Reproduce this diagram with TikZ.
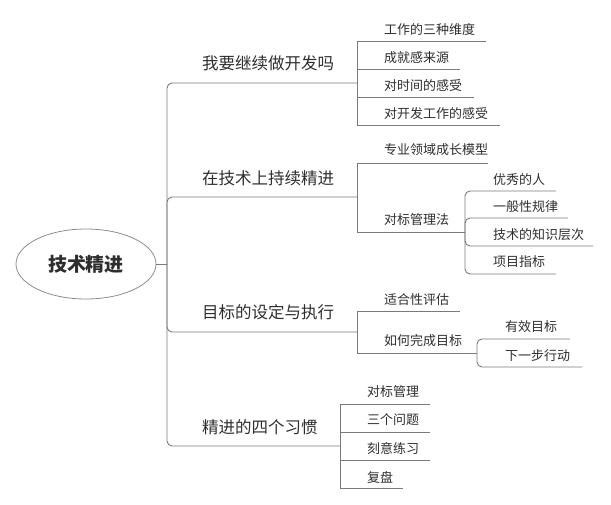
\documentclass[tikz,border=0pt]{standalone}
\usepackage{fontspec}
\newfontfamily\cjk{Noto Sans CJK SC}
\definecolor{linegray}{HTML}{7A7A7A}
\definecolor{txt}{HTML}{2E2E2E}
\definecolor{ellgray}{HTML}{8C8C8C}
\begin{document}
\begin{tikzpicture}[x=1pt,y=-1pt,
  ln/.style={draw=linegray, line width=0.9pt},
  rln/.style={ln, rounded corners=5pt},
  big/.style={font=\cjk\fontsize{16.5}{18}\selectfont, text=txt, anchor=west, inner sep=0pt},
  sub/.style={font=\cjk\fontsize{13}{15}\selectfont, text=txt, anchor=west, inner sep=0pt},
  rootst/.style={ellipse, draw=ellgray, line width=0.8pt, minimum width=140pt, minimum height=70pt,
    font=\cjk\bfseries\fontsize{19}{21}\selectfont, text=txt, inner sep=0pt}
]
\useasboundingbox (0,0) rectangle (611,504);
\usetikzlibrary{shapes.geometric}

% root
\node[rootst] (root) at (86,264) {技术精进};
\coordinate (t) at (167,264);
\draw[ln] (root.east) -- (t);

% main branches
\node[big] (b1) at (202,63) {我要继续做开发吗};
\node[big] (b2) at (202,178) {在技术上持续精进};
\node[big] (b3) at (202,312) {目标的设定与执行};
\node[big] (b4) at (202,427) {精进的四个习惯};
\coordinate (j1) at (357,83);
\coordinate (j2) at (357,197);
\coordinate (j3) at (357,332);
\coordinate (j4) at (340,446);
\draw[rln] (t) |- (j1);
\draw[rln] (t) |- (j2);
\draw[rln] (t) |- (j3);
\draw[rln] (t) |- (j4);

% branch 1 children
\node[sub] (c11) at (384,30) {工作的三种维度};
\node[sub] (c12) at (384,58) {成就感来源};
\node[sub] (c13) at (384,86) {对时间的感受};
\node[sub] (c14) at (384,114) {对开发工作的感受};
\coordinate (e11) at (486,41);
\coordinate (e12) at (460,69);
\coordinate (e13) at (474,97);
\coordinate (e14) at (500,125);
\draw[ln] (j1) |- (e11);
\draw[ln] (j1) |- (e12);
\draw[ln] (j1) |- (e13);
\draw[ln] (j1) |- (e14);

% branch 2 children
\node[sub] (c21) at (384,150) {专业领域成长模型};
\node[sub] (c22) at (384,220) {对标管理法};
\coordinate (e21) at (488,163);
\coordinate (j22) at (465,232);
\draw[ln] (j2) |- (e21);
\draw[ln] (j2) |- (j22);

% 对标管理法 children
\node[sub] (d1) at (493,180) {优秀的人};
\node[sub] (d2) at (493,207) {一般性规律};
\node[sub] (d3) at (493,235) {技术的知识层次};
\node[sub] (d4) at (493,262) {项目指标};
\coordinate (f1) at (556,191);
\coordinate (f2) at (568,218);
\coordinate (f3) at (593,246);
\coordinate (f4) at (556,274);
\draw[rln] (j22) |- (f1);
\draw[rln] (j22) |- (f2);
\draw[rln] (j22) |- (f3);
\draw[rln] (j22) |- (f4);

% branch 3 children
\node[sub] (c31) at (384,300) {适合性评估};
\node[sub] (c32) at (384,341) {如何完成目标};
\coordinate (e31) at (460,311);
\coordinate (j32) at (477,353);
\draw[ln] (j3) |- (e31);
\draw[ln] (j3) |- (j32);

% 如何完成目标 children
\node[sub] (g1) at (505,327) {有效目标};
\node[sub] (g2) at (505,356) {下一步行动};
\coordinate (h1) at (570,339);
\coordinate (h2) at (582,367);
\draw[rln] (j32) |- (h1);
\draw[rln] (j32) |- (h2);

% branch 4 children
\node[sub] (c41) at (367,392) {对标管理};
\node[sub] (c42) at (367,420) {三个问题};
\node[sub] (c43) at (367,448) {刻意练习};
\node[sub] (c44) at (367,477) {复盘};
\coordinate (e41) at (430,404);
\coordinate (e42) at (430,432);
\coordinate (e43) at (430,460);
\coordinate (e44) at (403,488);
\draw[ln] (j4) |- (e41);
\draw[ln] (j4) |- (e42);
\draw[ln] (j4) |- (e43);
\draw[ln] (j4) |- (e44);
\end{tikzpicture}
\end{document}
